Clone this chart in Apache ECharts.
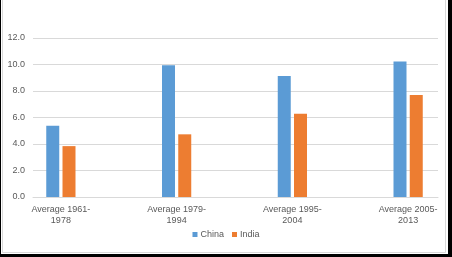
<!DOCTYPE html>
<html>
<head>
<meta charset="utf-8">
<script src="https://cdn.jsdelivr.net/npm/echarts@6/dist/echarts.min.js"></script>
<style>html,body{margin:0;padding:0;background:#fff;}#c{width:452px;height:257px;}</style>
</head>
<body>
<div id="c"></div>
<script>
const categories = ['Average 1961-\n1978', 'Average 1979-\n1994', 'Average 1995-\n2004', 'Average 2005-\n2013'];
const china = [5.38, 9.95, 9.14, 10.23];
const india = [3.84, 4.73, 6.29, 7.70];
const seriesNames = ['China', 'India'];
const yMin = 0, yMax = 12, yStep = 2;

const chart = echarts.init(document.getElementById('c'), null, {renderer: 'canvas'});
const font = 'Liberation Sans';
const textColor = '#595959';
chart.setOption({
  animation: false,
  backgroundColor: '#fff',
  textStyle: {fontFamily: font},
  grid: [
    {left: 33, right: 14, top: 38, bottom: 60, outerBoundsMode: 'none'},
    {left: 3, right: -14, top: 38, bottom: 60, outerBoundsMode: 'none', containLabel: false}
  ],
  xAxis: [
    {type: 'category', gridIndex: 0, data: categories, axisLine: {lineStyle: {color: '#d9d9d9'}},
     axisTick: {show: false}, axisLabel: {show: false}, splitLine: {show: false}},
    {type: 'category', gridIndex: 1, data: categories, axisLine: {show: false}, axisTick: {show: false},
     axisLabel: {color: textColor, fontSize: 9, lineHeight: 11, margin: 7, interval: 0, fontFamily: font}}
  ],
  yAxis: [
    {type: 'value', gridIndex: 0, min: yMin, max: yMax, interval: yStep,
     axisLine: {show: false}, axisTick: {show: false},
     axisLabel: {color: textColor, fontSize: 9, margin: 8, fontFamily: font, formatter: v => v.toFixed(1)},
     splitLine: {lineStyle: {color: '#d9d9d9'}}},
    {type: 'value', gridIndex: 1, min: yMin, max: yMax, interval: yStep, show: false, splitLine: {show: false}}
  ],
  legend: {
    data: seriesNames, bottom: 13, left: 'center', itemWidth: 5, itemHeight: 5, itemGap: 8,
    icon: 'rect', textStyle: {color: textColor, fontSize: 9, fontFamily: font, padding: [0, 0, 0, -2]}
  },
  series: [
    {name: seriesNames[0], type: 'bar', xAxisIndex: 1, yAxisIndex: 1, data: china, barWidth: 13, barGap: '25%',
     itemStyle: {color: '#5b9bd5'}},
    {name: seriesNames[1], type: 'bar', xAxisIndex: 1, yAxisIndex: 1, data: india, barWidth: 13, barGap: '25%',
     itemStyle: {color: '#ed7d31'}}
  ],
  graphic: [
    {type: 'rect', shape: {x: 2.5, y: -2, width: 443, height: 254.5}, style: {fill: 'none', stroke: '#d9d9d9', lineWidth: 1}, silent: true},
    {type: 'rect', shape: {x: 0, y: 0, width: 1, height: 257}, style: {fill: '#000'}, silent: true},
    {type: 'rect', shape: {x: 448, y: 0, width: 4, height: 257}, style: {fill: '#000'}, silent: true},
    {type: 'rect', shape: {x: 0, y: 254, width: 452, height: 3}, style: {fill: '#000'}, silent: true}
  ]
});
</script>
</body>
</html>
